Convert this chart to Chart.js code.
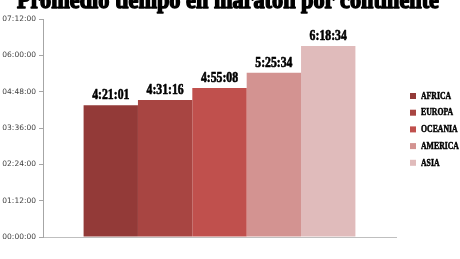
<!DOCTYPE html>
<html>
<head>
<meta charset="utf-8">
<script src="https://cdn.jsdelivr.net/npm/chart.js@4"></script>
<style>
  html, body { margin: 0; padding: 0; background: #fff; }
  #wrap { width: 460px; height: 259px; }
</style>
</head>
<body>
<div id="wrap"><canvas id="chart"></canvas></div>
<script>
// continents and average marathon time (seconds)
const continents = ['AFRICA', 'EUROPA', 'OCEANIA', 'AMERICA', 'ASIA'];
const times = [15661, 16276, 17708, 19534, 22714];
const timeLabels = ['4:21:01', '4:31:16', '4:55:08', '5:25:34', '6:18:34'];
const colors = ['#933A38', '#A84542', '#C0504D', '#D39391', '#E0BBBB'];
const titleText = 'Promedio tiempo en maraton por continente';

const pad = (n) => String(n).padStart(2, '0');
const fmt = (s) => pad(Math.floor(s / 3600)) + ':' + pad(Math.floor(s % 3600 / 60)) + ':' + pad(s % 60);

// heavy, squeezed text (the source uses a black condensed serif)
function heavyText(ctx, txt, x, y, sx, stroke) {
  ctx.save();
  ctx.translate(x, y);
  ctx.scale(sx, 1);
  ctx.lineWidth = stroke;
  ctx.strokeStyle = '#000';
  ctx.lineJoin = 'round';
  ctx.strokeText(txt, 0, 0);
  ctx.fillText(txt, 0, 0);
  ctx.restore();
}

// title, value labels and legend drawn by hand
const extras = {
  id: 'extras',
  afterDatasetsDraw(chart) {
    const ctx = chart.ctx;
    ctx.save();
    ctx.fillStyle = '#000';

    // value labels above the bars
    ctx.font = 'bold 14px "Liberation Serif"';
    ctx.textAlign = 'center';
    ctx.textBaseline = 'alphabetic';
    chart.data.datasets.forEach((ds, i) => {
      const bar = chart.getDatasetMeta(i).data[0];
      heavyText(ctx, timeLabels[i], bar.x, bar.y - 6, 0.84, 0.6);
    });

    // title (cut off at the top as in the source)
    ctx.font = 'bold 26px "Liberation Serif"';
    ctx.textAlign = 'left';
    const w = ctx.measureText(titleText).width;
    heavyText(ctx, titleText, 17, 8, 422 / w, 1.6);

    // legend
    ctx.font = 'bold 10.5px "Liberation Serif"';
    ctx.textBaseline = 'middle';
    continents.forEach((c, i) => {
      const y = 96 + i * 16.7;
      ctx.fillStyle = colors[i];
      ctx.fillRect(410, y - 3, 6, 6);
      ctx.fillStyle = '#000';
      heavyText(ctx, c, 421, y, 0.74, 0.5);
    });
    ctx.restore();
  }
};

new Chart(document.getElementById('chart'), {
  type: 'bar',
  data: {
    labels: [''],
    datasets: continents.map((c, i) => ({
      label: c,
      data: [times[i]],
      backgroundColor: colors[i],
      borderWidth: 0
    }))
  },
  options: {
    responsive: true,
    maintainAspectRatio: false,
    animation: false,
    categoryPercentage: 0.77,
    barPercentage: 1,
    layout: { padding: { top: 19, right: 64, left: 0, bottom: 0 } },
    plugins: {
      legend: { display: false },
      tooltip: { enabled: false }
    },
    scales: {
      x: {
        grid: { display: false },
        border: { display: true, color: '#BFBFBF', width: 1 },
        ticks: { display: false },
        afterFit: (s) => { s.height = 22; }
      },
      y: {
        min: 0,
        max: 25920,
        afterBuildTicks: (s) => {
          s.ticks = [0, 4320, 8640, 12960, 17280, 21600, 25920].map(v => ({ value: v }));
        },
        grid: { drawOnChartArea: false, drawTicks: true, tickLength: 4, color: '#A6A6A6' },
        border: { display: true, color: '#A6A6A6', width: 1 },
        ticks: {
          padding: 3,
          color: '#404040',
          font: { family: 'DejaVu Sans', size: 7.5 },
          callback: (v) => fmt(v)
        },
        afterFit: (s) => { s.width = 43; }
      }
    }
  },
  plugins: [extras]
});
</script>
</body>
</html>
